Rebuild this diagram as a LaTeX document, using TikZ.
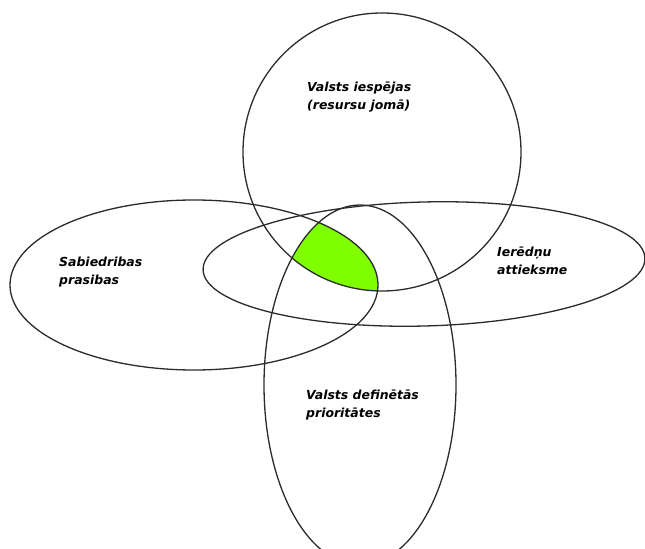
\documentclass[tikz,border=0pt]{standalone}
\usepackage{fontspec}
\setmainfont{DejaVu Sans}
\usetikzlibrary{positioning}
\definecolor{vennLine}{HTML}{2B2B2B}
\definecolor{vennGreen}{HTML}{80FF00}
\tikzset{
  setline/.style={vennLine,line width=1.3bp},
  setlabel/.style={anchor=north west,align=left,inner sep=0pt,
                   font=\bfseries\itshape\fontsize{12.5}{18}\selectfont}
}
\begin{document}
\begin{tikzpicture}[x=1bp,y=-1bp]
  \useasboundingbox (0,0) rectangle (645,549);
  % common part of the sets
  \begin{scope}
    \clip (382,152) circle [radius=139];
    \clip (194,285) ellipse [x radius=184, y radius=85];
    \fill[vennGreen] (360,385) ellipse [x radius=96, y radius=180];
  \end{scope}
  \draw[setline] (382,152) circle [radius=139];
  \draw[setline] (194,285) ellipse [x radius=184, y radius=85];
  \draw[setline,rotate around={1.5:(424,264)}] (424,264) ellipse [x radius=221, y radius=62];
  \draw[setline] (360,385) ellipse [x radius=96, y radius=180];
  % labels
  \node[setlabel] (capab) at (307,82) {Valsts iespējas\\(resursu jomā)};
  \node[setlabel] (society) at (59,257) {Sabiedribas\\prasibas};
  \node[setlabel] (officials) at (497,247) {Ierēdņu\\attieksme};
  \node[setlabel] (priorities) at (306,390) {Valsts definētās\\prioritātes};
\end{tikzpicture}
\end{document}
